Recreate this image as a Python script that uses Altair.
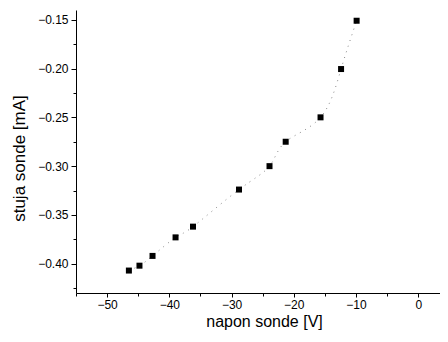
import altair as alt
import pandas as pd

napon = [-46.5, -44.8, -42.7, -39.0, -36.2, -28.8, -23.9, -21.3, -15.7, -12.4, -9.9]
struja = [-0.407, -0.402, -0.392, -0.373, -0.362, -0.324, -0.300, -0.275, -0.250, -0.2005, -0.151]

x_major = [-50, -40, -30, -20, -10, 0]
x_minor = [-55, -45, -35, -25, -15, -5]
y_major = [-0.40, -0.35, -0.30, -0.25, -0.20, -0.15]
y_minor = [-0.425, -0.375, -0.325, -0.275, -0.225, -0.175]

df = pd.DataFrame({"napon": napon, "struja": struja})

FONT = "Liberation Sans"

xs = alt.Scale(domain=[-55, 3.5], nice=False, zero=False)
ys = alt.Scale(domain=[-0.43, -0.14], nice=False, zero=False)

x_axis = alt.Axis(values=x_major, format="d", tickSize=4, labelFontSize=12,
                  labelFont=FONT, labelColor="black", domainColor="black",
                  tickColor="black", grid=False, labelPadding=2,
                  title="napon sonde [V]", titleFont=FONT, titleFontSize=16,
                  titleFontWeight="normal", titleColor="black",
                  titleY=33, titleBaseline="alphabetic", titleX=188)
y_axis = alt.Axis(values=y_major, format=".2f", tickSize=5, labelFontSize=12,
                  labelFont=FONT, labelColor="black", domainColor="black",
                  tickColor="black", grid=False, labelPadding=3,
                  title="stuja sonde [mA]", titleFont=FONT, titleFontSize=17,
                  titleFontWeight="normal", titleColor="black",
                  titleX=-57, titleY=148, titleAngle=-90, titleBaseline="middle",
                  titleAlign="center")

x_axis_minor = alt.Axis(values=x_minor, tickSize=3, labels=False, domain=False,
                        tickColor="black", grid=False, title="", orient="bottom")
y_axis_minor = alt.Axis(values=y_minor, tickSize=3, labels=False, domain=False,
                        tickColor="black", grid=False, title="", orient="left")

line = alt.Chart(df).mark_line(color="#888888", strokeWidth=1, strokeDash=[1, 5],
                               interpolate="natural").encode(
    x=alt.X("napon:Q", scale=xs, axis=x_axis),
    y=alt.Y("struja:Q", scale=ys, axis=y_axis),
)

pts = alt.Chart(df).mark_square(color="black", size=36, opacity=1).encode(
    x=alt.X("napon:Q", scale=xs, axis=x_axis_minor),
    y=alt.Y("struja:Q", scale=ys, axis=y_axis_minor),
)

chart = alt.layer(line, pts).resolve_axis(x="independent", y="independent").properties(
    width=364, height=283,
    autosize=alt.AutoSizeParams(type="none"),
    padding={"left": 68, "top": 2, "right": 0, "bottom": 37},
    view=alt.ViewBackground(stroke="transparent", strokeWidth=0, strokeOpacity=0),
).configure(
    background="white",
    view=alt.ViewConfig(stroke="transparent", strokeWidth=0, strokeOpacity=0),
)

chart.save("out.html", embed_options={"renderer": "svg", "actions": False})
